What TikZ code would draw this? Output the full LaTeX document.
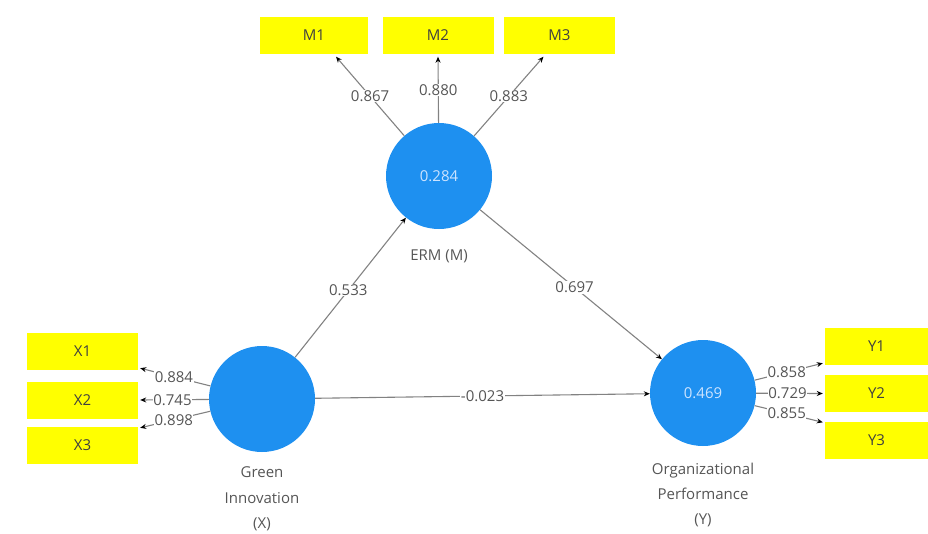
\documentclass[tikz,border=0pt]{standalone}
\usepackage{fontspec}
\setmainfont{Open Sans}
\usetikzlibrary{arrows.meta}
\definecolor{lvblue}{RGB}{30,144,240}
\definecolor{lvtext}{RGB}{205,228,255}
\definecolor{boxyel}{RGB}{255,255,0}
\definecolor{lblgray}{RGB}{85,85,85}
\definecolor{linegray}{RGB}{130,130,130}
\begin{document}
\begin{tikzpicture}[x=1pt,y=-1pt,
  every node/.style={font=\fontsize{15}{17}\selectfont},
  latent/.style={circle,fill=lvblue,minimum size=106pt,inner sep=0pt,text=lvtext},
  indic/.style={rectangle,fill=boxyel,minimum width=111pt,minimum height=37pt,inner sep=0pt,text=black!75},
  lbl/.style={fill=white,inner sep=0.5pt,text=lblgray},
  capt/.style={text=lblgray,align=center},
  conn/.style={draw=linegray,line width=1.1pt,-{Stealth[length=6pt,width=5pt,black]}}
]
\useasboundingbox (0,0) rectangle (928,533);
% latent variables
\node[latent] (erm) at (439,176) {0.284};
\node[latent] (gi) at (262,399) {};
\node[latent] (op) at (703,393) {0.469};
% captions
\node[capt] (ermc) at (439,256) {ERM (M)};
\node[capt,font=\fontsize{15}{25.5}\selectfont] (gic) at (262,499) {Green\\Innovation\\(X)};
\node[capt,font=\fontsize{15}{25}\selectfont] (opc) at (703,495) {Organizational\\Performance\\(Y)};
% indicators
\node[indic,minimum width=108pt] (m1) at (314,35) {M1};
\node[indic] (m2) at (438,35) {M2};
\node[indic] (m3) at (559.5,35) {M3};
\node[indic] (x1) at (82.5,351.5) {X1};
\node[indic] (x2) at (82.5,400) {X2};
\node[indic] (x3) at (82.5,445.5) {X3};
\node[indic,minimum width=103pt] (y1) at (876.5,346.5) {Y1};
\node[indic,minimum width=103pt] (y2) at (876.5,393.5) {Y2};
\node[indic,minimum width=103pt] (y3) at (876.5,440) {Y3};
% structural paths
\draw[conn] (gi) -- node[lbl,pos=0.48] {0.533} (erm);
\draw[conn] (erm) -- node[lbl,pos=0.52] {0.697} (op);
\draw[conn] (gi) -- node[lbl,pos=0.5] {-0.023} (op);
% outer loadings M
\draw[conn] (erm) -- node[lbl,pos=0.5] {0.867} ([xshift=22pt,yshift=-3pt]m1.south);
\draw[conn] (erm) -- node[lbl,pos=0.5] {0.880} ([yshift=-3pt]m2.south);
\draw[conn] (erm) -- node[lbl,pos=0.5] {0.883} ([xshift=-16pt,yshift=-3pt]m3.south);
% outer loadings X
\draw[conn] (gi) -- node[lbl,pos=0.52] {0.884} ([xshift=2pt,yshift=2pt]x1.south east);
\draw[conn] (gi) -- node[lbl,pos=0.53] {0.745} ([xshift=2pt]x2.east);
\draw[conn] (gi) -- node[lbl,pos=0.52] {0.898} ([xshift=2pt,yshift=-1pt]x3.north east);
% outer loadings Y
\draw[conn] (op) -- node[lbl,pos=0.47] {0.858} ([xshift=-2pt,yshift=2pt]y1.south west);
\draw[conn] (op) -- node[lbl,pos=0.47] {0.729} ([xshift=-2pt]y2.west);
\draw[conn] (op) -- node[lbl,pos=0.47] {0.855} ([xshift=-2pt,yshift=-1pt]y3.north west);
\end{tikzpicture}
\end{document}
